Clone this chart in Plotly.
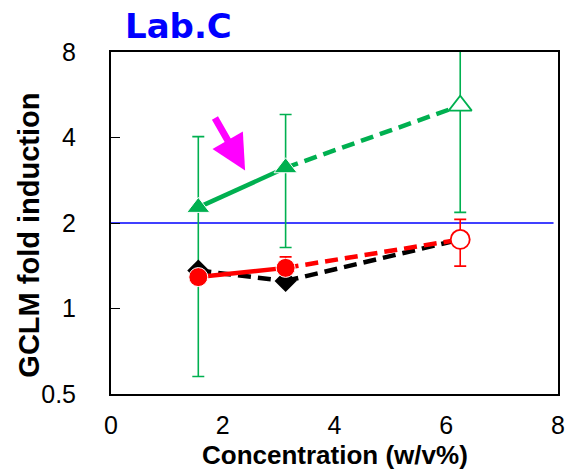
import math
import plotly.graph_objects as go

# Concentrations tested (w/v%)
conc = [1.5625, 3.125, 6.25]

# Green series: fold induction with upper / lower error limits
green = [2.27, 3.13, 5.18]
green_hi = [4.03, 4.82, 8.2]
green_lo = [0.576, 1.64, 2.18]

# Black series
black = [1.36, 1.25, 1.75]

# Red series with error limits (None where no bar is drawn)
red = [1.29, 1.39, 1.75]
red_hi = [None, 1.52, 2.06]
red_lo = [None, 1.39, 1.41]

y_ticks = [0.5, 1, 2, 4, 8]
x_ticks = [0, 2, 4, 6, 8]
threshold = 2

GREEN = "#00B050"
RED = "#FF0000"
BLACK = "#000000"
DASH = "13px,7px"


def err_up(v, hi):
    return [0 if h is None else h - x for x, h in zip(v, hi)]


def err_dn(v, lo):
    return [0 if l is None else x - l for x, l in zip(v, lo)]


fig = go.Figure()

# Threshold line at 2-fold
fig.add_shape(type="line", xref="paper", yref="y", x0=0, x1=0.99,
              y0=threshold, y1=threshold,
              line=dict(color="#0000FF", width=1.6), layer="below")


def add_series(y, color, symbol, size, hi, lo):
    # solid segment between the two lower concentrations
    fig.add_trace(go.Scatter(x=conc[:2], y=y[:2], mode="lines",
                             line=dict(color=color, width=4.5),
                             showlegend=False, hoverinfo="skip"))
    # dashed extension to the highest concentration
    fig.add_trace(go.Scatter(x=conc[1:], y=y[1:], mode="lines",
                             line=dict(color=color, width=4.5, dash=DASH),
                             showlegend=False, hoverinfo="skip"))
    # error bars plus filled markers
    fig.add_trace(go.Scatter(
        x=conc, y=y, mode="markers",
        error_y=dict(type="data", symmetric=False,
                     array=err_up(y, hi), arrayminus=err_dn(y, lo),
                     color=color, thickness=1.6, width=6),
        marker=dict(symbol=symbol, size=[size, size, 0], color=color,
                    opacity=1),
        showlegend=False, cliponaxis=False))
    # open marker at the highest concentration
    fig.add_trace(go.Scatter(
        x=conc[2:], y=y[2:], mode="markers",
        marker=dict(symbol=symbol, size=size, color="white", opacity=1,
                    line=dict(color=color, width=1.8)),
        showlegend=False, cliponaxis=False))


add_series(green, GREEN, "triangle-up", 20, green_hi, green_lo)
fig.add_trace(go.Scatter(x=conc[:2], y=black[:2], mode="lines+markers",
                         line=dict(color=BLACK, width=4.5, dash=DASH),
                         marker=dict(symbol="diamond", size=17, color=BLACK),
                         showlegend=False))
fig.add_trace(go.Scatter(x=conc[1:], y=black[1:], mode="lines",
                         line=dict(color=BLACK, width=4.5, dash=DASH),
                         showlegend=False))
add_series(red, RED, "circle", 19, red_hi, red_lo)

# Magenta arrow pointing at the green solid segment
fig.add_annotation(x=2.4, y=math.log10(3.06), xref="x", yref="y",
                   ax=-31, ay=-54, showarrow=True, text="",
                   arrowhead=2, arrowsize=1.0, arrowwidth=7,
                   arrowcolor="#FF00FF", standoff=0)

# Panel title
fig.add_annotation(text="<b>Lab.C</b>", xref="paper", yref="paper",
                   x=0.152, y=1, yshift=26, xanchor="center", yanchor="middle",
                   showarrow=False,
                   font=dict(family="DejaVu Sans", size=34, color="#0000FF"))

# Axis titles
fig.add_annotation(text="<b>GCLM fold induction</b>", xref="paper", yref="paper",
                   x=0, xshift=-82, y=0.463, textangle=-90,
                   xanchor="center", yanchor="middle", showarrow=False,
                   font=dict(family="Liberation Sans", size=29, color=BLACK))
fig.add_annotation(text="<b>Concentration (w/v%)</b>", xref="paper", yref="paper",
                   x=0.5, y=0, yshift=-61, xanchor="center", yanchor="middle",
                   showarrow=False,
                   font=dict(family="Liberation Sans", size=26, color=BLACK))

fig.update_layout(
    width=574, height=472,
    margin=dict(l=111, r=9, t=52, b=78),
    paper_bgcolor="white", plot_bgcolor="white",
    font=dict(family="Liberation Sans", size=25, color=BLACK),
    xaxis=dict(range=[0, 8], tickvals=x_ticks, ticks="", showgrid=False,
               zeroline=False, showline=True, linecolor=BLACK, linewidth=2,
               mirror=True, ticklabelstandoff=8,
               tickfont=dict(size=25)),
    yaxis=dict(type="log", range=[math.log10(0.5), math.log10(8)],
               tickvals=y_ticks, ticktext=[str(t) for t in y_ticks],
               ticks="inside", ticklen=9, tickwidth=1.2, tickcolor=BLACK,
               showgrid=False, zeroline=False, showline=True, linecolor=BLACK,
               linewidth=2, mirror=True, ticklabelstandoff=28,
               tickfont=dict(size=25)),
)

fig.write_html("out.html")
